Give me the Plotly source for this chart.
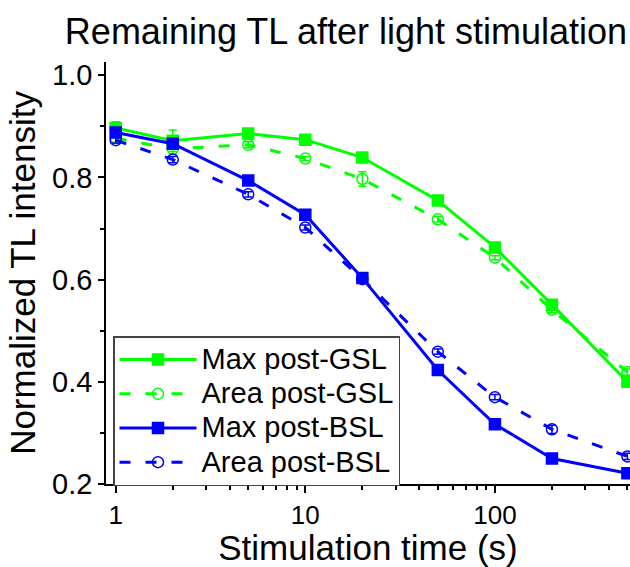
import plotly.graph_objects as go

# Stimulation times (s) and normalized TL intensities
times = [1, 2, 5, 10, 20, 50, 100, 200, 500]
max_gsl = [0.897, 0.872, 0.886, 0.874, 0.839, 0.755, 0.663, 0.551, 0.400]
area_gsl = [0.877, 0.856, 0.864, 0.837, 0.797, 0.718, 0.643, 0.541, 0.419]
max_bsl = [0.888, 0.866, 0.794, 0.727, 0.603, 0.423, 0.317, 0.250, 0.221]
area_bsl = [0.873, 0.835, 0.767, 0.702, 0.601, 0.459, 0.370, 0.307, 0.254]

max_gsl_err = [0.012, 0.021, 0.006, 0.004, 0.006, 0.004, 0.005, 0.005, 0.005]
area_gsl_err = [0.008, 0.010, 0.006, 0.004, 0.014, 0.005, 0.004, 0.006, 0.006]
max_bsl_err = [0.006, 0.006, 0.004, 0.004, 0.004, 0.004, 0.003, 0.003, 0.003]
area_bsl_err = [0.006, 0.006, 0.005, 0.005, 0.005, 0.005, 0.005, 0.008, 0.006]

x_tickvals = [1, 10, 100]
x_ticktext = ["1", "10", "100"]
x_minor_vals = [2, 3, 4, 5, 6, 7, 8, 9, 20, 30, 40, 50, 60, 70, 80, 90,
                200, 300, 400, 500]
y_tickvals = [0.2, 0.4, 0.6, 0.8, 1.0]
y_ticktext = ["0.2", "0.4", "0.6", "0.8", "1.0"]

GREEN = "#00ff00"
BLUE = "#0000ff"
FONT = "Liberation Sans, Arial, sans-serif"

series = [
    ("Max post-GSL", max_gsl, max_gsl_err, GREEN, "solid", "square"),
    ("Area post-GSL", area_gsl, area_gsl_err, GREEN, "11px,15px", "circle-open"),
    ("Max post-BSL", max_bsl, max_bsl_err, BLUE, "solid", "square"),
    ("Area post-BSL", area_bsl, area_bsl_err, BLUE, "11px,15px", "circle-open"),
]

fig = go.Figure()
for name, vals, errs, color, dash, symbol in series:
    fig.add_trace(go.Scatter(
        x=times, y=vals,
        name=f"<span style='font-size:29px'>{name}</span>",
        mode="lines+markers",
        line=dict(color=color, width=3, dash=dash),
        marker=dict(symbol=symbol, size=11, color=color,
                    line=dict(color=color, width=1.5)),
        error_y=dict(type="data", array=errs, visible=True,
                     color=color, thickness=1.5, width=4),
        cliponaxis=False,
    ))

fig.update_layout(
    width=630, height=567,
    margin=dict(l=106, r=0, t=62, b=83),
    paper_bgcolor="white", plot_bgcolor="white",
    font=dict(family=FONT, color="black"),
    title=dict(text="Remaining TL after light stimulation",
               font=dict(size=36, color="black"),
               x=346 / 630, xanchor="center", xref="container",
               y=1 - 31 / 567, yanchor="middle", yref="container"),
    showlegend=True,
    legend=dict(
        x=(113 - 106) / 524, y=(484 - 336) / 422,
        xanchor="left", yanchor="top",
        bordercolor="#444444", borderwidth=1.5,
        bgcolor="white",
        font=dict(size=24, color="black"),
        itemwidth=77, tracegroupgap=0,
    ),
)

fig.update_xaxes(
    type="log", range=[-0.0512, 2.7126],
    tickvals=x_tickvals, ticktext=x_ticktext,
    ticks="outside", ticklen=7, tickwidth=1.5, tickcolor="black",
    minor=dict(tickmode="array", tickvals=x_minor_vals,
               ticks="outside", ticklen=4, tickwidth=1.5, tickcolor="black",
               showgrid=False),
    showline=True, linecolor="black", linewidth=1.5,
    showgrid=False, zeroline=False,
    tickfont=dict(size=26, color="black"),
    title=dict(text="Stimulation time (s)", font=dict(size=35, color="black"),
               standoff=10),
)

fig.update_yaxes(
    range=[0.2, 1.026],
    tickvals=y_tickvals, ticktext=y_ticktext,
    ticks="outside", ticklen=6, tickwidth=1.5, tickcolor="black",
    minor=dict(ticks="outside", ticklen=4, tickwidth=1.5, tickcolor="black",
               dtick=0.1, showgrid=False),
    showline=True, linecolor="black", linewidth=1.5,
    showgrid=False, zeroline=False,
    tickfont=dict(size=29, color="black"),
    title=dict(text="Normalized TL intensity", font=dict(size=35, color="black"),
               standoff=6),
)

fig.write_html("out.html")
